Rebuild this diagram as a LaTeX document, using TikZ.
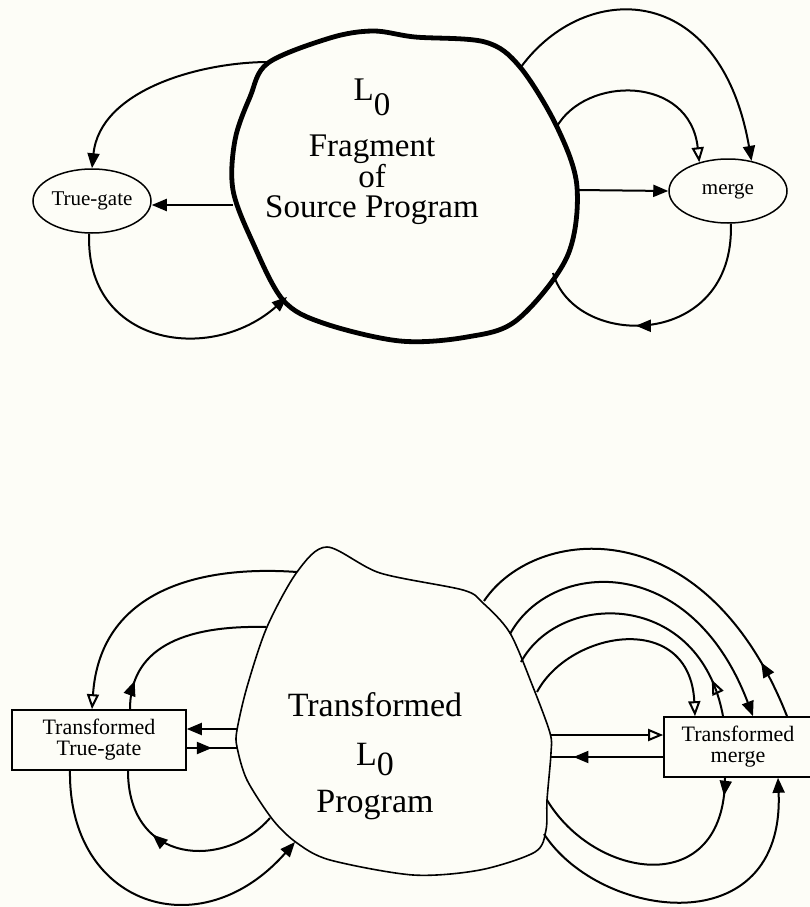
\documentclass[tikz,border=0pt]{standalone}
\usepackage{fontspec}
\setmainfont{Liberation Serif}
\usepackage{tikz}
\usetikzlibrary{shapes.geometric,arrows.meta,decorations.markings}

\definecolor{paper}{RGB}{253,253,247}
\newcommand{\Lnull}[1][0.45em]{L\raisebox{-#1}{0}}

\begin{document}
\begin{tikzpicture}[%
  x=1pt, y=-1pt, line width=2pt,
  >={Triangle[length=15pt,width=12pt]},
  gate/.style={ellipse, draw, line width=1.5pt, inner sep=0pt,
    minimum width=118pt, minimum height=64pt, font=\fontsize{21}{21}\selectfont},
  tbox/.style={rectangle, draw, line width=1.6pt, inner sep=0pt, align=center,
    minimum height=60pt, font=\fontsize{22}{21}\selectfont},
  blobtext/.style={align=center, inner sep=0pt},
  openhead/.style={-{Triangle[open,length=15pt,width=12pt]}},
  fwdmark/.style={postaction={decorate}, decoration={markings,
    mark=at position #1 with {\arrow{>}}}},
  backmark/.style={postaction={decorate}, decoration={markings,
    mark=at position #1 with {\arrowreversed{>}}}},
  openback/.style={postaction={decorate}, decoration={markings,
    mark=at position #1 with {\arrowreversed{Triangle[open,length=15pt,width=12pt]}}}}]
  \useasboundingbox (0,0) rectangle (810,907);
  \fill[paper] (0,0) rectangle (810,907);

  % source fragment
  \draw[line width=4.8pt, line join=round] plot[smooth cycle, tension=0.55] coordinates {
    (268,63) (330,38) (373,31) (415,37) (485,42) (520,67) (557,127) (577,187)
    (567,257) (517,320) (467,337) (400,341) (323,323) (283,300) (253,243)
    (233,190) (235,140) (250,97)};
  \node[blobtext, font=\fontsize{33}{30}\selectfont] (src) at (372,152)
    {\Lnull\\[18pt]Fragment\\of\\Source Program};
  \node[gate] (tgate) at (92,201) {True-gate};
  \node[gate] (merge) at (728,191) {merge};

  \coordinate (s-nw) at (269,62);
  \coordinate (s-w) at (233,205);
  \coordinate (s-sw) at (287,297);
  \coordinate (s-ne) at (521,67);
  \coordinate (s-e1) at (556,128);
  \coordinate (s-e) at (577,190);
  \coordinate (s-se) at (553,273);

  \draw[->] (s-nw) .. controls (200,62) and (100,90) .. (tgate.north);
  \draw[->] (s-w) -- (s-w -| tgate.east);
  \draw[->] (tgate.265) .. controls (85,345) and (210,365) .. (s-sw);
  \draw[->] (s-e) -- (merge.west);
  \draw[openhead] (s-e1) .. controls (585,75) and (690,75) .. (merge.135);
  \draw[->] (s-ne) .. controls (585,-20) and (720,-20) .. (merge.52);
  \draw[fwdmark=0.6] (merge.275) .. controls (735,350) and (575,350) .. (s-se);

  % transformed program
  \draw[line width=1.6pt] plot[smooth cycle, tension=0.5] coordinates {
    (297,572) (327,547) (380,573) (463,590) (483,603) (510,633) (533,687)
    (550,733) (551,753) (547,800) (546,830) (535,852) (480,870) (413,875)
    (330,860) (297,843) (273,820) (247,780) (237,747) (237,730) (247,687)
    (267,627)};
  \node[blobtext, font=\fontsize{34}{47}\selectfont] (prog) at (375,756)
    {Transformed\\[2pt]\Lnull[0.3em]\\Program};
  \node[tbox, minimum width=174pt] (ttgate) at (99,740) {Transformed\\True-gate};
  \node[tbox, minimum width=148pt] (tmerge) at (738,747) {Transformed\\merge};

  \coordinate (p-nw) at (297,572);
  \coordinate (p-w1) at (266,627);
  \coordinate (p-w2) at (237,729);
  \coordinate (p-w3) at (237,748);
  \coordinate (p-sw1) at (270,818);
  \coordinate (p-sw2) at (295,842);
  \coordinate (p-ne1) at (484,601);
  \coordinate (p-ne2) at (510,634);
  \coordinate (p-ne3) at (521,662);
  \coordinate (p-ne4) at (537,692);
  \coordinate (p-e1) at (551,735);
  \coordinate (p-e2) at (551,757);
  \coordinate (p-se1) at (547,800);
  \coordinate (p-se2) at (544,834);

  \draw[openhead] (p-nw) .. controls (200,565) and (100,590) .. ([xshift=-7pt]ttgate.north);
  \draw[fwdmark=0.16] ([xshift=31pt]ttgate.north) .. controls (130,650) and (180,625) .. (p-w1);
  \draw[->] (p-w2) -- (p-w2 -| ttgate.east);
  \draw[fwdmark=0.5] (p-w3 -| ttgate.east) -- (p-w3);
  \draw[fwdmark=0.65] (p-sw1) .. controls (225,870) and (128,865) .. ([xshift=29pt]ttgate.south);
  \draw[->] ([xshift=-29pt]ttgate.south) .. controls (68,905) and (200,950) .. (p-sw2);

  \draw[backmark=0.85] (p-ne1) .. controls (535,525) and (705,508) .. ([xshift=49pt]tmerge.north);
  \draw[->] (p-ne2) .. controls (550,560) and (690,550) .. ([xshift=15pt]tmerge.north);
  \draw[openback=0.86] (p-ne3) .. controls (560,590) and (700,590) .. ([xshift=-15pt]tmerge.north);
  \draw[openhead] (p-ne4) .. controls (570,630) and (690,610) .. ([xshift=-43pt]tmerge.north);
  \draw[openhead] (p-e1) -- (p-e1 -| tmerge.west);
  \draw[fwdmark=0.8] (p-e2 -| tmerge.west) -- (p-e2);
  \draw[fwdmark=0.07] ([xshift=-13pt]tmerge.south) .. controls (725,900) and (595,880) .. (p-se1);
  \draw[->] (p-se2) .. controls (600,920) and (785,945) .. ([xshift=40pt]tmerge.south);
\end{tikzpicture}
\end{document}
